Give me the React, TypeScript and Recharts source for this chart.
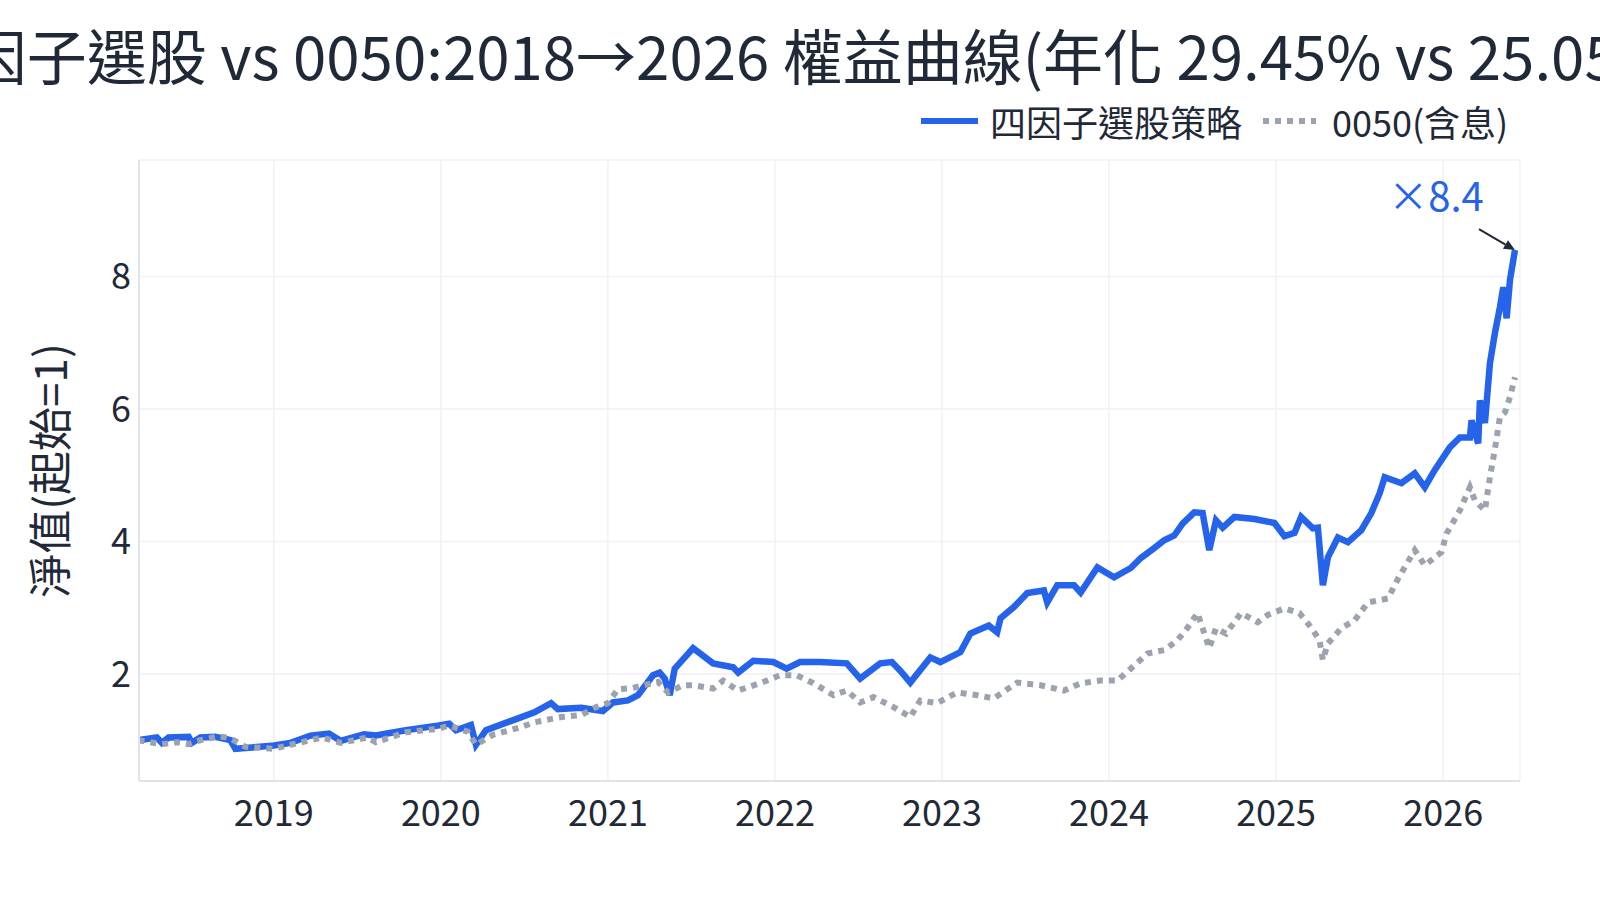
import { LineChart, Line, XAxis, YAxis, CartesianGrid, Legend, ReferenceDot } from 'recharts';

const FONT = '"Noto Sans CJK TC", "Noto Sans", sans-serif';
const INK = '#1f2937';
const BLUE = '#2563eb';
const GRAY = '#9ca3af';

const yearTicks = [2019, 2020, 2021, 2022, 2023, 2024, 2025, 2026];
const navTicks = [2, 4, 6, 8];

const STRATEGY = '四因子選股策略';
const ETF = '0050(含息)';
const legendOrder = [STRATEGY, ETF];

// 四因子選股策略 (decimal year, 淨值)
const strategyT = [
  2018.19, 2018.3, 2018.33, 2018.37, 2018.49, 2018.51, 2018.56, 2018.65, 2018.74, 2018.77,
  2018.87, 2019.0, 2019.1, 2019.22, 2019.33, 2019.4, 2019.54, 2019.61, 2019.79, 2019.98,
  2020.05, 2020.09, 2020.18, 2020.21, 2020.27, 2020.43, 2020.56, 2020.66, 2020.7, 2020.84,
  2020.97, 2021.03, 2021.12, 2021.18, 2021.27, 2021.31, 2021.34, 2021.37, 2021.4, 2021.51,
  2021.63, 2021.75, 2021.78, 2021.87, 2021.99, 2022.07, 2022.15, 2022.27, 2022.43, 2022.51,
  2022.63, 2022.7, 2022.75, 2022.81, 2022.93, 2022.99, 2023.11, 2023.17, 2023.28, 2023.33,
  2023.35, 2023.43, 2023.51, 2023.61, 2023.63, 2023.69, 2023.79, 2023.83, 2023.93, 2024.03,
  2024.13, 2024.19, 2024.27, 2024.33, 2024.39, 2024.44, 2024.51, 2024.56, 2024.6, 2024.64,
  2024.68, 2024.75, 2024.87, 2024.99, 2025.05, 2025.11, 2025.15, 2025.22, 2025.25, 2025.28,
  2025.31, 2025.37, 2025.43, 2025.51, 2025.57, 2025.62, 2025.65, 2025.75, 2025.83, 2025.89,
  2025.95, 2026.04, 2026.1, 2026.16, 2026.17, 2026.21, 2026.22, 2026.25, 2026.28, 2026.31,
  2026.34, 2026.36, 2026.38, 2026.4, 2026.43,
];
const strategyV = [
  1.0, 1.04, 0.96, 1.04, 1.05, 0.96, 1.04, 1.05, 1.0, 0.87,
  0.89, 0.92, 0.96, 1.07, 1.1, 0.99, 1.09, 1.07, 1.15, 1.22,
  1.25, 1.15, 1.23, 0.93, 1.15, 1.3, 1.42, 1.56, 1.47, 1.49,
  1.44, 1.57, 1.6, 1.68, 1.98, 2.02, 1.93, 1.68, 2.08, 2.39,
  2.16, 2.1, 2.02, 2.2, 2.18, 2.08, 2.18, 2.18, 2.16, 1.93,
  2.16, 2.18, 2.05, 1.87, 2.25, 2.18, 2.33, 2.61, 2.73, 2.63,
  2.84, 3.01, 3.22, 3.26, 3.08, 3.34, 3.34, 3.23, 3.61, 3.46,
  3.6, 3.75, 3.9, 4.02, 4.09, 4.27, 4.44, 4.43, 3.87, 4.32,
  4.21, 4.37, 4.34, 4.28, 4.08, 4.13, 4.37, 4.2, 4.21, 3.34,
  3.76, 4.06, 3.99, 4.17, 4.43, 4.73, 4.97, 4.88, 5.03, 4.82,
  5.08, 5.42, 5.57, 5.57, 5.83, 5.48, 6.13, 5.79, 6.69, 7.15,
  7.54, 7.84, 7.37, 7.95, 8.4,
];

// 0050(含息)
const etfT = [
  2018.19, 2018.33, 2018.42, 2018.49, 2018.56, 2018.67, 2018.74, 2018.83, 2019.0, 2019.15,
  2019.29, 2019.4, 2019.56, 2019.61, 2019.79, 2019.98, 2020.05, 2020.16, 2020.21, 2020.31,
  2020.47, 2020.56, 2020.72, 2020.84, 2020.93, 2021.0, 2021.06, 2021.15, 2021.3, 2021.36,
  2021.45, 2021.51, 2021.63, 2021.69, 2021.78, 2021.92, 2022.03, 2022.13, 2022.23, 2022.35,
  2022.43, 2022.51, 2022.59, 2022.71, 2022.81, 2022.87, 2022.97, 2023.09, 2023.21, 2023.31,
  2023.45, 2023.59, 2023.73, 2023.83, 2023.95, 2024.05, 2024.13, 2024.23, 2024.33, 2024.41,
  2024.47, 2024.53, 2024.56, 2024.6, 2024.64, 2024.7, 2024.79, 2024.89, 2024.95, 2025.05,
  2025.14, 2025.21, 2025.26, 2025.28, 2025.31, 2025.39, 2025.47, 2025.55, 2025.67, 2025.73,
  2025.83, 2025.89, 2025.99, 2026.02, 2026.1, 2026.16, 2026.19, 2026.25, 2026.28, 2026.31,
  2026.34, 2026.37, 2026.4, 2026.43,
];
const etfV = [
  1.0, 0.94, 0.97, 0.94, 1.0, 1.06, 1.03, 0.9, 0.87, 0.96,
  1.04, 0.96, 1.04, 0.97, 1.12, 1.17, 1.22, 1.13, 0.93, 1.08,
  1.19, 1.27, 1.35, 1.38, 1.5, 1.56, 1.77, 1.79, 1.88, 1.72,
  1.83, 1.83, 1.78, 1.9, 1.75, 1.87, 1.98, 1.98, 1.86, 1.68,
  1.75, 1.57, 1.65, 1.5, 1.35, 1.6, 1.56, 1.72, 1.68, 1.63,
  1.87, 1.83, 1.75, 1.86, 1.9, 1.9, 2.08, 2.31, 2.36, 2.51,
  2.7, 2.92, 2.69, 2.39, 2.69, 2.61, 2.92, 2.78, 2.89, 2.99,
  2.92, 2.7, 2.51, 2.21, 2.46, 2.69, 2.81, 3.08, 3.14, 3.44,
  3.87, 3.64, 3.84, 4.12, 4.47, 4.82, 4.62, 4.47, 4.97, 5.4,
  5.88, 5.95, 6.18, 6.48,
];

const toRows = (ts: number[], vs: number[]) => ts.map((t, i) => ({ t, v: vs[i] }));
const strategyRows = toRows(strategyT, strategyV);
const etfRows = toRows(etfT, etfV);

const lastT = strategyT[strategyT.length - 1];
const lastV = strategyV[strategyV.length - 1];

// arrow from the label down to the last point, like a plotly annotation
function EndNote(props: any) {
  const { cx, cy } = props;
  if (cx == null || cy == null) return null;
  const sx = cx - 36;
  const sy = cy - 21;
  const len = Math.hypot(cx - sx, cy - sy);
  const ux = (cx - sx) / len;
  const uy = (cy - sy) / len;
  const bx = cx - ux * 11;
  const by = cy - uy * 11;
  const px = -uy;
  const py = ux;
  return (
    <g>
      <line x1={sx} y1={sy} x2={bx} y2={by} stroke={INK} strokeWidth={2} />
      <polygon
        points={`${cx},${cy} ${bx + px * 5},${by + py * 5} ${bx - px * 5},${by - py * 5}`}
        fill={INK}
      />
      <text
        x={cx - 79}
        y={cy - 56}
        textAnchor="middle"
        dominantBaseline="central"
        fill={BLUE}
        fontSize={40}
        fontFamily={FONT}
      >
        {`×${lastV.toFixed(1)}`}
      </text>
    </g>
  );
}

function LegendRow(props: any) {
  const items = [...(props.payload || [])].sort(
    (a: any, b: any) => legendOrder.indexOf(a.value) - legendOrder.indexOf(b.value)
  );
  return (
    <div style={{ display: 'flex', alignItems: 'center', fontFamily: FONT, fontSize: 36, color: INK }}>
      {items.map((it: any, i: number) => {
        const dash = it.payload?.strokeDasharray;
        return (
          <div key={it.value} style={{ display: 'flex', alignItems: 'center', marginRight: i === 0 ? 21 : 0 }}>
            <svg width={i === 0 ? 57 : 53} height={10} style={{ marginRight: i === 0 ? 12 : 16 }}>
              <line x1={0} y1={5} x2={60} y2={5} stroke={it.color} strokeWidth={6} strokeDasharray={dash} />
            </svg>
            <span style={{ lineHeight: 1 }}>{it.value}</span>
          </div>
        );
      })}
    </div>
  );
}

export default function App() {
  return (
    <div style={{ position: 'absolute', left: 0, top: 0, width: 1600, height: 900, overflow: 'hidden', background: '#fff' }}>
      <div
        style={{
          position: 'absolute',
          top: 24,
          left: 0,
          width: 1600,
          display: 'flex',
          justifyContent: 'center',
          whiteSpace: 'nowrap',
          fontFamily: FONT,
          fontSize: 60,
          lineHeight: 1,
          color: INK,
        }}
      >
        <span>四因子選股 vs 0050:2018→2026 權益曲線(年化 29.45% vs 25.05%)</span>
      </div>
      <LineChart width={1600} height={900} margin={{ top: 160, right: 80, left: 0, bottom: 0 }}>
        <CartesianGrid stroke="#f0f1f4" strokeWidth={1.5} />
        <XAxis
          type="number"
          dataKey="t"
          domain={[2018.193, 2026.46]}
          ticks={yearTicks}
          allowDataOverflow
          height={119}
          tickSize={0}
          tickMargin={19}
          axisLine={{ stroke: '#e2e4e9', strokeWidth: 2 }}
          tickLine={false}
          tick={{ fill: INK, fontSize: 36, fontFamily: FONT }}
        />
        <YAxis
          type="number"
          domain={[0.384, 9.76]}
          ticks={navTicks}
          allowDataOverflow
          width={139}
          tickSize={0}
          tickMargin={8}
          axisLine={{ stroke: '#e2e4e9', strokeWidth: 2 }}
          tickLine={false}
          tick={{ fill: INK, fontSize: 36, fontFamily: FONT }}
          label={{
            value: '淨值(起始=1)',
            angle: -90,
            position: 'insideLeft',
            offset: 51,
            style: { textAnchor: 'middle', fill: INK, fontSize: 44, fontFamily: FONT },
          }}
        />
        <Legend
          layout="horizontal"
          verticalAlign="middle"
          align="center"
          content={<LegendRow />}
          wrapperStyle={{ position: 'absolute', top: 103, left: 921, width: 660, height: 40 }}
        />
        <Line
          data={strategyRows}
          dataKey="v"
          name={STRATEGY}
          type="linear"
          stroke={BLUE}
          strokeWidth={6.5}
          dot={false}
          isAnimationActive={false}
        />
        <Line
          data={etfRows}
          dataKey="v"
          name={ETF}
          type="linear"
          stroke={GRAY}
          strokeWidth={6}
          strokeDasharray="6 6"
          dot={false}
          isAnimationActive={false}
        />
        <ReferenceDot x={lastT} y={lastV} r={0} shape={<EndNote />} />
      </LineChart>
    </div>
  );
}
